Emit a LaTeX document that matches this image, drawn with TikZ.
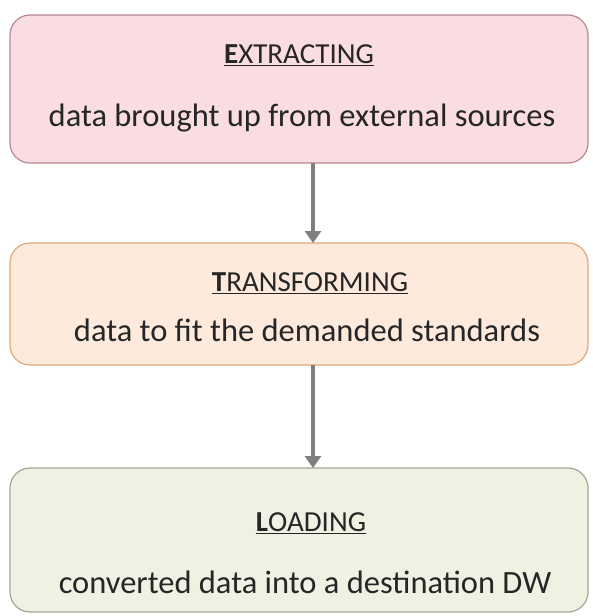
\documentclass[tikz,border=0pt]{standalone}
\usepackage{fontspec}
\setmainfont{Carlito}
\usetikzlibrary{arrows.meta}
\definecolor{pinkfill}{HTML}{F9DDE2}
\definecolor{pinkdraw}{HTML}{B88890}
\definecolor{orangefill}{HTML}{FDEADC}
\definecolor{orangedraw}{HTML}{E0A878}
\definecolor{greenfill}{HTML}{EFF1E2}
\definecolor{greendraw}{HTML}{A0A890}
\definecolor{arrowgray}{HTML}{7F7F7F}
\definecolor{txt}{HTML}{262626}
\tikzset{
  stagebox/.style={draw, line width=1.2pt, rounded corners=20pt},
  ttl/.style={font=\fontsize{29}{32}\selectfont, text=txt, inner sep=0pt},
  desc/.style={font=\fontsize{32.5}{36}\selectfont, text=txt, inner sep=0pt},
  flow/.style={draw=arrowgray, line width=4pt, -{Triangle[length=12pt,width=16pt]}}
}
\newcommand{\ulttl}[2]{\underline{\textbf{#1}#2}}
\begin{document}
\begin{tikzpicture}[x=1pt,y=-1pt]
\useasboundingbox (0,0) rectangle (592,616);
\fill[white] (0,0) rectangle (592,616);
\draw[stagebox, fill=pinkfill, draw=pinkdraw] (10,15) rectangle (588,163);
\node[coordinate] (b1) at (313,163) {};
\node[ttl] (t1) at (299,55) {\ulttl{E}{XTRACTING}};
\node[desc] (d1) at (302,118) {data brought up from external sources};
\draw[stagebox, fill=orangefill, draw=orangedraw] (10,243) rectangle (588,365);
\node[coordinate] (a2) at (313,243) {};
\node[coordinate] (b2) at (313,365) {};
\node[ttl] (t2) at (310,283) {\ulttl{T}{RANSFORMING}};
\node[desc] (d2) at (307,330) {data to fit the demanded standards};
\draw[stagebox, fill=greenfill, draw=greendraw] (10,468) rectangle (588,612);
\node[coordinate] (a3) at (313,468) {};
\node[ttl] (t3) at (311,523) {\ulttl{L}{OADING}};
\node[desc] (d3) at (305,582) {converted data into a destination DW};
\draw[flow] (b1) -- (a2);
\draw[flow] (b2) -- (a3);
\end{tikzpicture}
\end{document}
